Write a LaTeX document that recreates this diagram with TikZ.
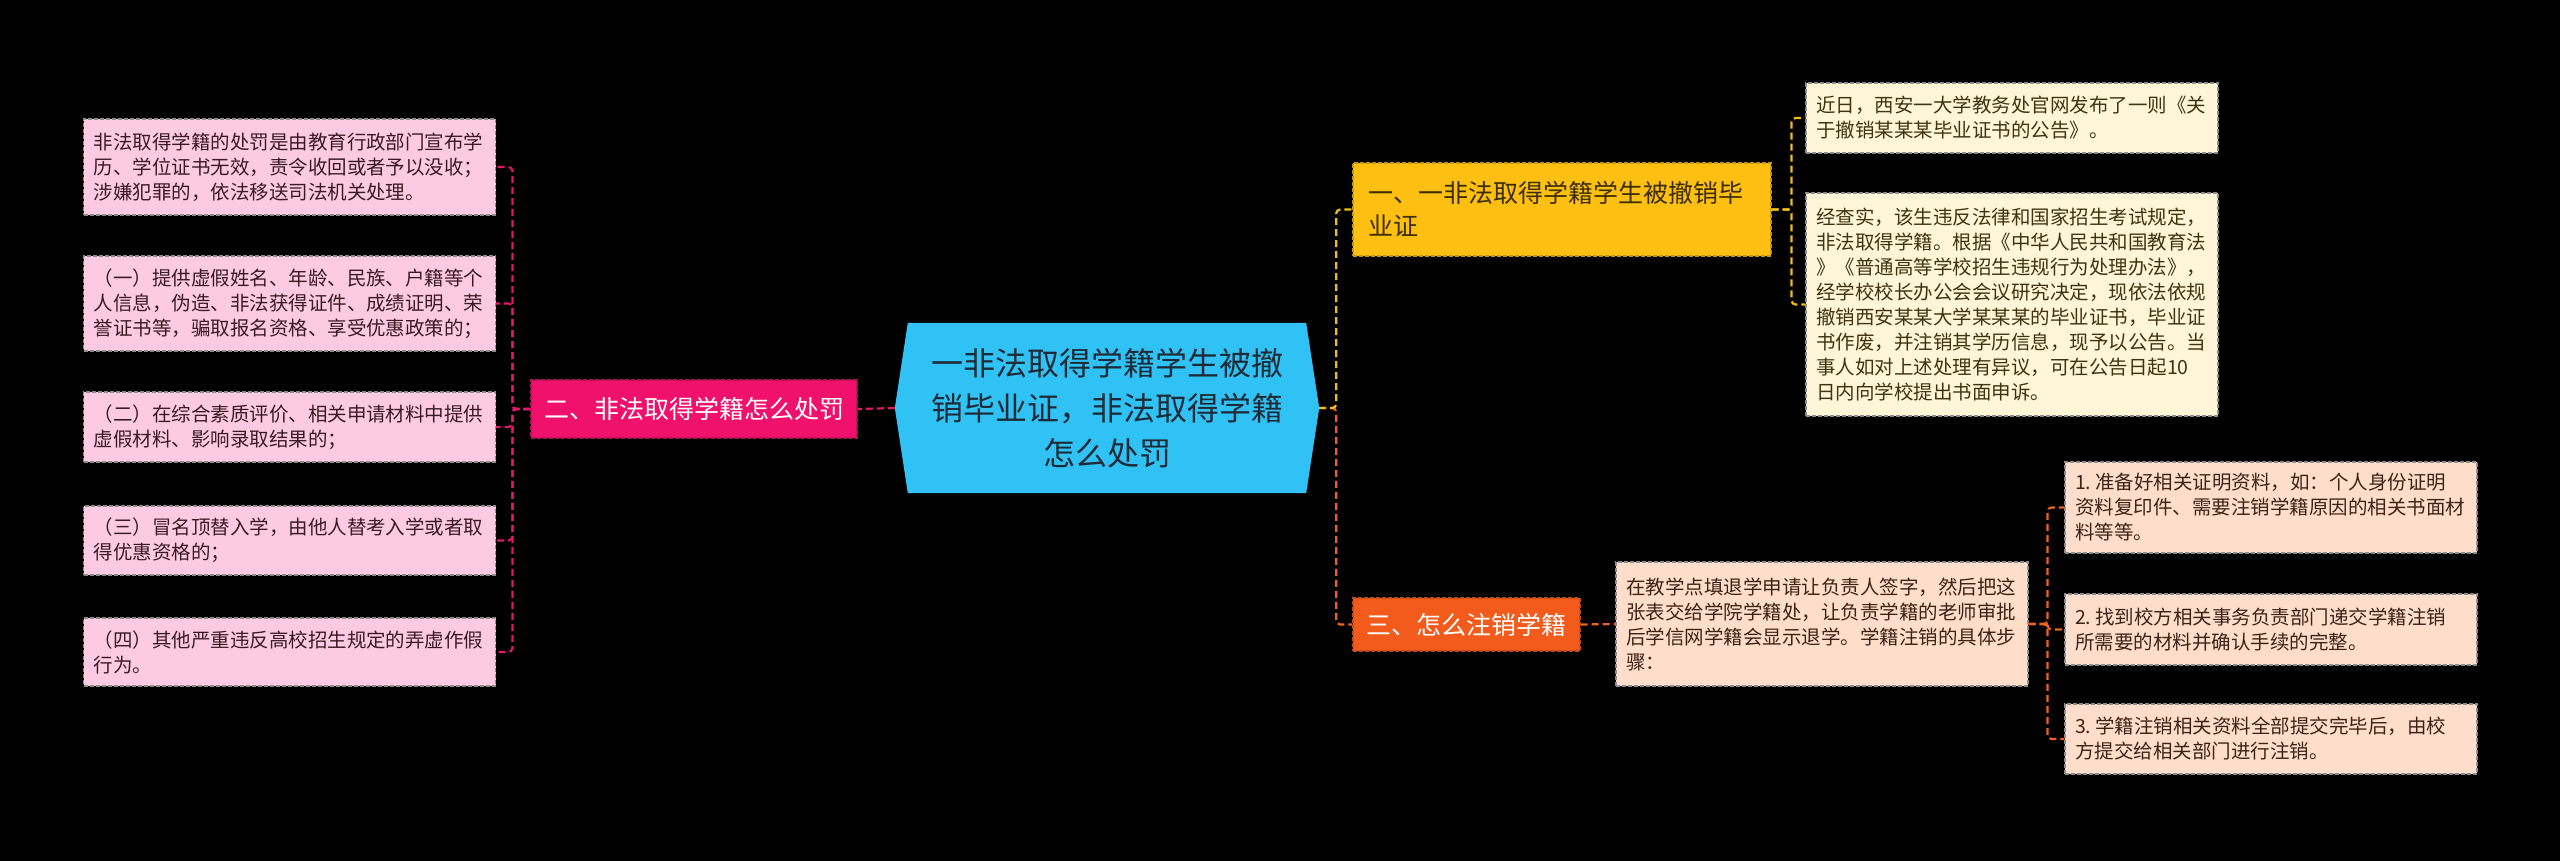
\documentclass[tikz,border=0pt]{standalone}
\usepackage{fontspec}
\setmainfont{Noto Sans CJK SC}
\pgfdeclarelayer{bg}
\pgfdeclarelayer{hex}
\pgfsetlayers{bg,hex,main}
\definecolor{centerblue}{HTML}{30C2F4}
\definecolor{centertext}{HTML}{1E2B36}
\definecolor{magnode}{HTML}{F0116C}
\definecolor{magline}{HTML}{E0176A}
\definecolor{pinkleaf}{HTML}{FDCBE1}
\definecolor{pinktext}{HTML}{3A1A26}
\definecolor{yelnode}{HTML}{FDBF12}
\definecolor{yelline}{HTML}{F2BE12}
\definecolor{yeltext}{HTML}{3B2E00}
\definecolor{creamleaf}{HTML}{FFF6D8}
\definecolor{creamtext}{HTML}{3F3310}
\definecolor{ornode}{HTML}{F25B1C}
\definecolor{orline}{HTML}{F0621E}
\definecolor{peachleaf}{HTML}{FFDDCB}
\definecolor{peachtext}{HTML}{3F2216}
\definecolor{leafborder}{HTML}{8C8C8C}
\newcommand\leaffont{\fontsize{19.5pt}{25pt}\selectfont}
\newcommand\midfont{\fontsize{25pt}{33pt}\selectfont}
\newcommand\bigfont{\fontsize{32pt}{45pt}\selectfont}
\begin{document}
\begin{tikzpicture}[x=1pt,y=-1pt,
  leafbase/.style={draw=leafborder, dash pattern=on 4pt off 2pt, line width=1.1pt,
    text width=392pt, inner xsep=10pt, inner ysep=3pt, align=left, font=\leaffont},
  pinkbox/.style={leafbase, fill=pinkleaf, text=pinktext},
  creambox/.style={leafbase, fill=creamleaf, text=creamtext},
  peachbox/.style={leafbase, fill=peachleaf, text=peachtext},
  branch/.style={dash pattern=on 4pt off 2pt, line width=1.1pt, inner sep=0pt, font=\midfont},
  conn/.style={dash pattern=on 7pt off 4pt, line width=2.2pt, rounded corners=4pt}
]
\begin{pgfonlayer}{bg}
\fill[black] (0,0) rectangle (2560,861);
\end{pgfonlayer}
\useasboundingbox (0,0) rectangle (2560,861);

% center
\node[minimum width=398pt, minimum height=170pt, inner sep=0pt, align=center,
  font=\bigfont, text=centertext] (c) at (1107,408)
  {一非法取得学籍学生被撤\\销毕业证，非法取得学籍\\怎么处罚};
\coordinate (cR) at ([xshift=13pt]c.east);
\coordinate (cL) at ([xshift=-13pt]c.west);
\begin{pgfonlayer}{hex}
\fill[centerblue] (c.north west) -- (c.north east) -- (cR) -- (c.south east)
  -- (c.south west) -- (cL) -- cycle;
\end{pgfonlayer}

% left branch
\node[branch, draw=magline!80!black, fill=magnode, text=white,
  minimum width=326pt, minimum height=58pt] (two) at (694,409) {二、非法取得学籍怎么处罚};

\node[pinkbox, minimum height=96pt] (l1) at (289.5,167)
  {非法取得学籍的处罚是由教育行政部门宣布学\\历、学位证书无效，责令收回或者予以没收；\\涉嫌犯罪的，依法移送司法机关处理。};
\node[pinkbox, minimum height=95pt] (l2) at (289.5,303.5)
  {（一）提供虚假姓名、年龄、民族、户籍等个\\人信息，伪造、非法获得证件、成绩证明、荣\\誉证书等，骗取报名资格、享受优惠政策的；};
\node[pinkbox, minimum height=70pt] (l3) at (289.5,427)
  {（二）在综合素质评价、相关申请材料中提供\\虚假材料、影响录取结果的；};
\node[pinkbox, minimum height=69pt] (l4) at (289.5,540.5)
  {（三）冒名顶替入学，由他人替考入学或者取\\得优惠资格的；};
\node[pinkbox, minimum height=68pt] (l5) at (289.5,652)
  {（四）其他严重违反高校招生规定的弄虚作假\\行为。};

% right branch one
\node[branch, draw=yelline!80!black, fill=yelnode, text=yeltext, text width=388pt,
  inner xsep=15pt, align=left, minimum height=93pt] (one) at (1562,209.5)
  {一、一非法取得学籍学生被撤销毕\\业证};
\node[creambox, minimum height=70pt] (r1) at (2012,118)
  {近日，西安一大学教务处官网发布了一则《关\\于撤销某某某毕业证书的公告》。};
\node[creambox, minimum height=223pt] (r2) at (2012,304.5)
  {经查实，该生违反法律和国家招生考试规定，\\非法取得学籍。根据《中华人民共和国教育法\\》《普通高等学校招生违规行为处理办法》，\\经学校校长办公会会议研究决定，现依法依规\\撤销西安某某大学某某某的毕业证书，毕业证\\书作废，并注销其学历信息，现予以公告。当\\事人如对上述处理有异议，可在公告日起10\\日内向学校提出书面申诉。};

% right branch three
\node[branch, draw=orline!80!black, fill=ornode, text=white,
  minimum width=227pt, minimum height=53pt] (three) at (1466.5,624.5) {三、怎么注销学籍};
\node[peachbox, minimum height=124pt] (r3) at (1822,624)
  {在教学点填退学申请让负责人签字，然后把这\\张表交给学院学籍处，让负责学籍的老师审批\\后学信网学籍会显示退学。学籍注销的具体步\\骤：};
\node[peachbox, minimum height=91pt] (r4) at (2271,507.5)
  {1.\hspace{4pt}准备好相关证明资料，如：个人身份证明\\资料复印件、需要注销学籍原因的相关书面材\\料等等。};
\node[peachbox, minimum height=71pt] (r5) at (2271,629.5)
  {2.\hspace{4pt}找到校方相关事务负责部门递交学籍注销\\所需要的材料并确认手续的完整。};
\node[peachbox, minimum height=70pt] (r6) at (2271,739)
  {3.\hspace{4pt}学籍注销相关资料全部提交完毕后，由校\\方提交给相关部门进行注销。};

% connectors
\draw[conn, magline] (cL) -- (two.east);
\foreach \n in {l1,l2,l3,l4,l5}
  \draw[conn, magline] (two.west) -- ++(-18,0) |- (\n.east);
\draw[conn, orline] (cR) -- ++(17,0) |- (three.west);
\draw[conn, yelline] (cR) -- ++(17,0) |- (one.west);
\foreach \n in {r1,r2}
  \draw[conn, yelline] (one.east) -- ++(20,0) |- (\n.west);
\draw[conn, orline] (three.east) -- (r3.west);
\foreach \n in {r4,r5,r6}
  \draw[conn, orline] (r3.east) -- ++(19,0) |- (\n.west);
\end{tikzpicture}
\end{document}
